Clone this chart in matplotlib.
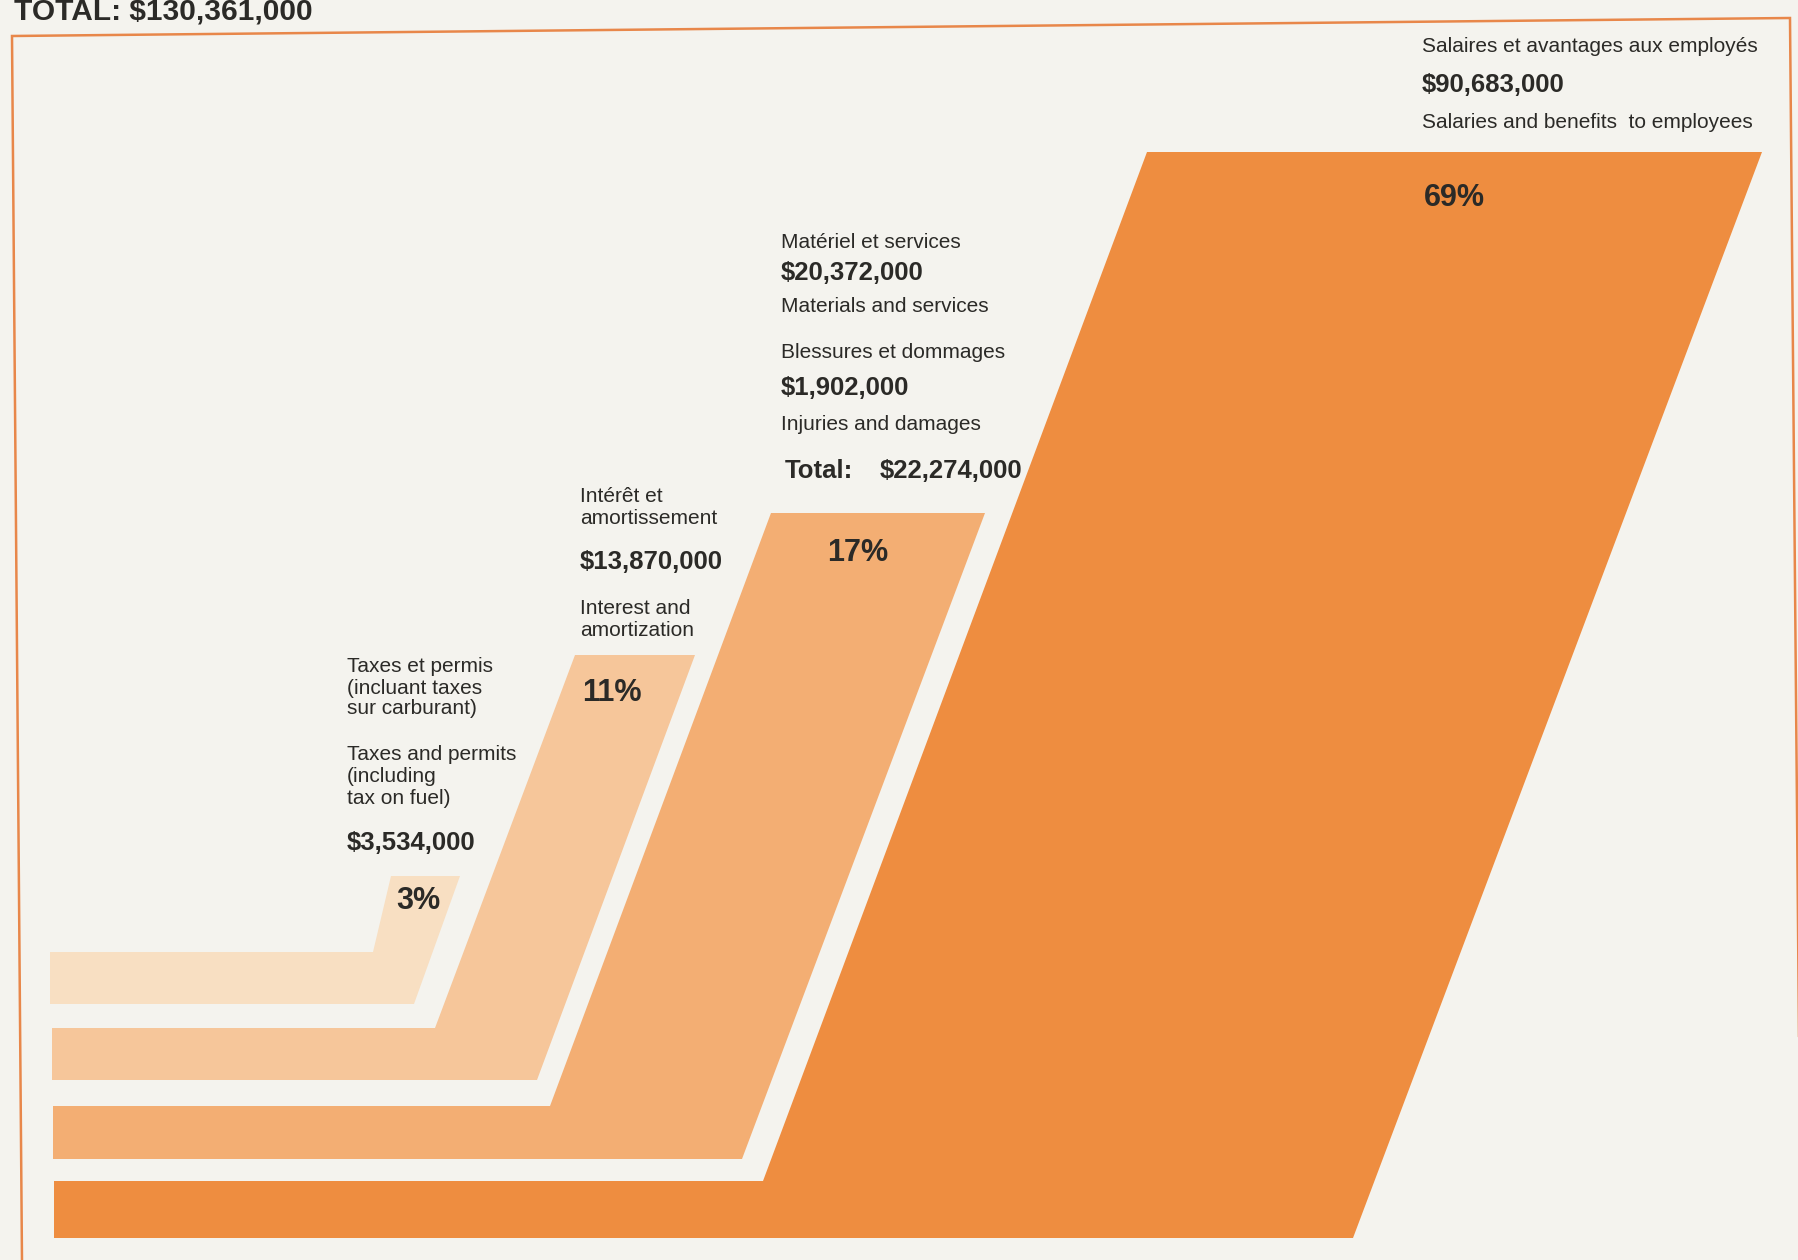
import matplotlib.pyplot as plt
from matplotlib.patches import Polygon

# data
percents = [3, 11, 17, 69]
pct_labels = [f"{p}%" for p in percents]
amounts = ["$3,534,000", "$13,870,000", "$22,274,000", "$90,683,000"]
total_label = "TOTAL: $130,361,000"
sub_amounts = ["$20,372,000", "$1,902,000"]

# layout of the bent bands (pixel space, y down)
band_left = [50, 52, 53, 54]
band_top = [952, 1028, 1106, 1181]
band_bottom = [1004, 1080, 1159, 1238]
inner_x = [373, 435, 550, 763]
outer_x = [414, 537, 742, 1353]
top_y = [876, 655, 513, 152]
top_left_x = [391, 575, 771, 1147]
top_right_x = [460, 695, 985, 1762]
colors = ["#F8DFC2", "#F6C69A", "#F3AE73", "#EE8D40"]

bg = "#F4F3EE"
ink = "#2B2A27"
frame_col = "#E8874A"

plt.rcParams['font.family'] = ['Liberation Sans', 'DejaVu Sans']

fig = plt.figure(figsize=(17.99, 12.6), dpi=100, facecolor=bg)
ax = fig.add_axes([0, 0, 1, 1])
ax.set_xlim(0, 1799)
ax.set_ylim(1260, 0)
ax.axis('off')
ax.set_facecolor(bg)

# frame, slightly tilted like the photographed page
ax.plot([22, 12, 1790, 1801], [1262, 36, 18, 1262], color=frame_col, lw=1.8,
        solid_joinstyle='miter')

for i in range(len(percents)):
    pts = [(band_left[i], band_top[i]), (inner_x[i], band_top[i]),
           (top_left_x[i], top_y[i]), (top_right_x[i], top_y[i]),
           (outer_x[i], band_bottom[i]), (band_left[i], band_bottom[i])]
    ax.add_patch(Polygon(pts, closed=True, facecolor=colors[i], edgecolor='none'))

# percent labels
pct_pos = [(396, 901), (582, 693), (827, 553), (1424, 198)]
for (x, y), lab in zip(pct_pos, pct_labels):
    ax.text(x, y, lab, fontsize=22, fontweight='bold', color=ink,
            ha='left', va='center')

ax.text(14, 19, total_label, fontsize=21.5, fontweight='bold', color=ink,
        ha='left', va='baseline')

reg = dict(fontsize=15, color=ink, ha='left', va='center')
bold = dict(fontsize=18.5, color=ink, ha='left', va='center', fontweight='bold')

# salaries
ax.text(1422, 47, "Salaires et avantages aux employés", **reg)
ax.text(1422, 85, amounts[3], **bold)
ax.text(1422, 122, "Salaries and benefits  to employees", **reg)

# materials / injuries
ax.text(781, 242, "Matériel et services", **reg)
ax.text(781, 273, sub_amounts[0], **bold)
ax.text(781, 307, "Materials and services", **reg)
ax.text(781, 353, "Blessures et dommages", **reg)
ax.text(781, 388, sub_amounts[1], **bold)
ax.text(781, 424, "Injuries and damages", **reg)
ax.text(785, 471, "Total:", **bold)
ax.text(880, 471, amounts[2], **bold)

# interest
ax.text(580, 496, "Intérêt et", **reg)
ax.text(580, 518, "amortissement", **reg)
ax.text(580, 562, amounts[1], **bold)
ax.text(580, 608, "Interest and", **reg)
ax.text(580, 630, "amortization", **reg)

# taxes
ax.text(347, 667, "Taxes et permis", **reg)
ax.text(347, 688, "(incluant taxes", **reg)
ax.text(347, 709, "sur carburant)", **reg)
ax.text(347, 755, "Taxes and permits", **reg)
ax.text(347, 777, "(including", **reg)
ax.text(347, 799, "tax on fuel)", **reg)
ax.text(347, 843, amounts[0], **bold)

fig.savefig("out.png", dpi=100, facecolor=bg)
